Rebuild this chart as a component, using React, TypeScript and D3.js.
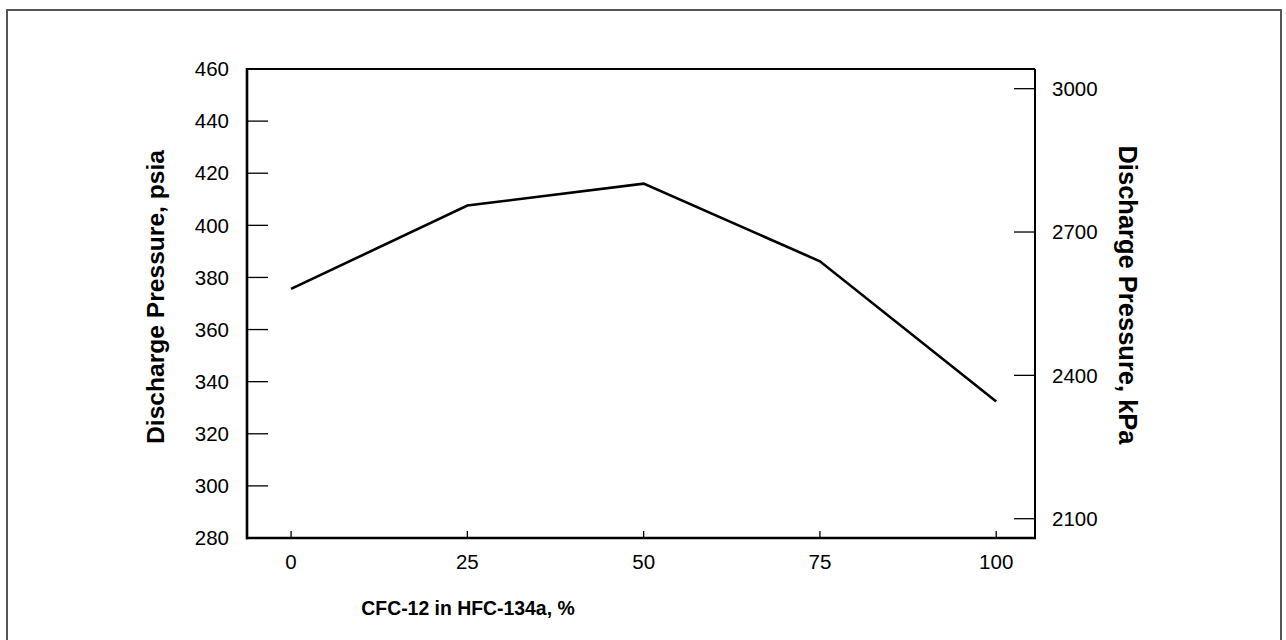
import React from "react";
import * as d3 from "d3";

const blendPct = [0, 25, 50, 75, 100];
const pressurePsia = [375.6, 407.6, 416, 386.2, 332.4];
const xTicks = [0, 25, 50, 75, 100];
const yLeftTicks = [280, 300, 320, 340, 360, 380, 400, 420, 440, 460];
const yRightTicks = [2100, 2400, 2700, 3000];

const W = 1286;
const H = 640;
const L = 247, R = 1035, T = 69, B = 538;

export default function App() {
  const x = d3.scaleLinear().domain([-6.25, 105.5]).range([L, R]);
  const y = d3.scaleLinear().domain([280, 460]).range([B, T]);
  const yR = d3.scaleLinear().domain([2059.6, 3041.2]).range([B, T]);
  const line = d3
    .line<number>()
    .x((_, i) => x(blendPct[i]))
    .y((d) => y(d));
  const font = "'Liberation Sans', Arial, Helvetica, sans-serif";
  const tickFs = 20.5;
  return (
    <svg
      width={W}
      height={H}
      style={{ position: "absolute", left: 0, top: 0, background: "#fff" }}
      fontFamily={font}
    >
      <rect x={7} y={10} width={1274} height={700} fill="none" stroke="#555" strokeWidth={2} />
      <line x1={L} y1={T} x2={R} y2={T} stroke="#000" strokeWidth={2} />
      <line x1={R} y1={T} x2={R} y2={B} stroke="#000" strokeWidth={2} />
      <line x1={L} y1={T - 1} x2={L} y2={B + 1.3} stroke="#000" strokeWidth={2.6} />
      <line x1={L - 1} y1={B} x2={R + 1} y2={B} stroke="#000" strokeWidth={2.6} />
      {yLeftTicks.map((t) => (
        <g key={"l" + t}>
          {t !== 280 && t !== 460 && (
            <line x1={L} x2={L + 21} y1={y(t)} y2={y(t)} stroke="#000" strokeWidth={1.3} />
          )}
          <text x={L - 18} y={y(t)} dy="0.35em" textAnchor="end" fontSize={tickFs} fill="#000">
            {t}
          </text>
        </g>
      ))}
      {yRightTicks.map((t) => (
        <g key={"r" + t}>
          <line x1={R - 21} x2={R} y1={yR(t)} y2={yR(t)} stroke="#000" strokeWidth={1.3} />
          <text x={R + 17} y={yR(t)} dy="0.35em" textAnchor="start" fontSize={tickFs} fill="#000">
            {t}
          </text>
        </g>
      ))}
      {xTicks.map((t) => (
        <g key={"x" + t}>
          <line x1={x(t)} x2={x(t)} y1={B} y2={B - 7} stroke="#000" strokeWidth={1.3} />
          <text x={x(t)} y={B + 31} textAnchor="middle" fontSize={tickFs} fill="#000">
            {t}
          </text>
        </g>
      ))}
      <path d={line(pressurePsia) || ""} fill="none" stroke="#000" strokeWidth={2.6} strokeLinejoin="miter" />
      <text
        transform={`translate(164,297) rotate(-90)`}
        textAnchor="middle"
        fontSize={24.6}
        fontWeight="bold"
        fill="#000"
      >
        Discharge Pressure, psia
      </text>
      <text
        transform={`translate(1119,295) rotate(90)`}
        textAnchor="middle"
        fontSize={25.5}
        fontWeight="bold"
        fill="#000"
      >
        Discharge Pressure, kPa
      </text>
      <text x={468} y={615} textAnchor="middle" fontSize={19.4} fontWeight="bold" fill="#000">
        CFC-12 in HFC-134a, %
      </text>
    </svg>
  );
}
